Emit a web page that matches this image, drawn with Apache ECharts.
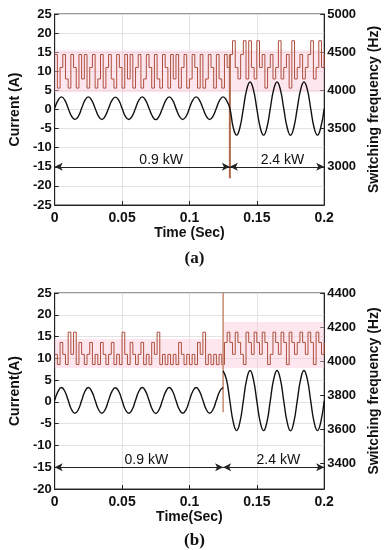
<!DOCTYPE html>
<html>
<head>
<meta charset="utf-8">
<script src="https://cdn.jsdelivr.net/npm/echarts@6.0.0/dist/echarts.min.js"></script>
<style>
html,body{margin:0;padding:0;background:#fff;}
#c{width:389px;height:550px;}
</style>
</head>
<body>
<div id="c"></div>
<script>
// ---------- data ----------
var xTicks = [0, 0.05, 0.1, 0.15, 0.2];
var dtCur = 0.0025;   // sample step of current traces (s)
var dtFreq = 0.002;   // sample step of switching-frequency traces (s)

// (a) load current (A), t = 0 .. 0.2 s every 2.5 ms
var currentA = [
  0.35, 2.4, 3.3, 2.45, 0.35, -1.75, -2.6, -1.8,
  0.3, 2.45, 3.3, 2.4, 0.35, -1.75, -2.6, -1.75,
  0.35, 2.4, 3.25, 2.45, 0.3, -1.8, -2.6, -1.75,
  0.35, 2.45, 3.3, 2.4, 0.35, -1.75, -2.65, -1.75,
  0.35, 2.4, 3.3, 2.45, 0.3, -1.75, -2.6, -1.8,
  0.35, 2.45, 3.3, 2.4, 0.35, -1.75, -2.6, -1.75,
  0.35, 2.45, 3.3, 2.4, 0.3, -4.7, -6.7, -4.65,
  0.25, 5.2, 7.2, 5.15, 0.25, -4.65, -6.7, -4.7,
  0.25, 5.2, 7.2, 5.2, 0.2, -4.65, -6.75, -4.65,
  0.25, 5.15, 7.2, 5.2, 0.25, -4.7, -6.7, -4.65,
  0.25
];

// (a) switching frequency (Hz), t = 0 .. 0.2 s every 2 ms
var freqA = [
  4470,4030,4300,4470,4150,4030,4470,4300,4030,4470,
  4150,4470,4030,4300,4470,4030,4150,4470,4030,4300,
  4470,4150,4030,4470,4300,4030,4470,4150,4470,4030,
  4300,4470,4030,4150,4470,4300,4030,4470,4150,4030,
  4470,4300,4030,4470,4150,4470,4030,4300,4470,4030,
  4150,4470,4300,4030,4470,4030,4150,4470,4300,4030,
  4470,4150,4030,4470,4300,4470,4650,4300,4150,4470,
  4650,4150,4650,4300,4150,4650,4300,4470,4030,4300,
  4470,4150,4300,4650,4150,4300,4470,4030,4650,4150,
  4300,4470,4150,4300,4470,4650,4150,4300,4650,4300,
  4470
];
// (a) load step: time and frequency dip
var stepTimeA = 0.13;
var spikeA = [4470, 2850];

// (b) load current (A): before step (0 .. 0.125 s) and after step (0.125 .. 0.2 s)
var currentB1 = [
  0.35, 2.4, 3.3, 2.45, 0.35, -1.75, -2.6, -1.8,
  0.3, 2.45, 3.3, 2.4, 0.35, -1.75, -2.6, -1.75,
  0.35, 2.4, 3.25, 2.45, 0.3, -1.8, -2.6, -1.75,
  0.35, 2.45, 3.3, 2.4, 0.35, -1.75, -2.65, -1.75,
  0.35, 2.4, 3.3, 2.45, 0.3, -1.75, -2.6, -1.8,
  0.35, 2.45, 3.3, 2.4, 0.35, -1.75, -2.6, -1.75,
  0.35, 2.45, 3.3
];
var currentB2 = [
  7.1, 5.1, 0.25, -4.6, -6.6, -4.6, 0.25, 5.15,
  7.2, 5.1, 0.25, -4.6, -6.6, -4.65, 0.25, 5.15,
  7.2, 5.15, 0.2, -4.6, -6.65, -4.6, 0.25, 5.1,
  7.2, 5.15, 0.25, -4.6, -6.6, -4.6, 0.25
];
// (b) switching frequency (Hz), t = 0 .. 0.2 s every 2 ms
var freqB = [
  4040,3980,4110,4040,3980,4170,4040,4170,3980,4110,
  4040,3980,4040,4110,3980,4040,3980,4110,4040,3980,
  4040,4110,3980,4040,3980,4170,4040,3980,4110,4040,
  3980,4040,4110,3980,4040,3980,4110,4040,4170,3980,
  4040,3980,4040,3980,4040,3980,4110,4040,3980,4040,
  3980,4040,3980,4110,4040,4170,3980,4040,3980,4040,
  3980,4040,3980,4110,4170,4110,4040,4170,4110,4040,
  3980,4170,4110,4040,4170,4110,4040,4170,4110,3980,
  4040,4170,4110,4040,4170,4110,3980,4170,4110,4040,
  4110,4170,4110,4040,4170,4110,3980,4170,4110,4040,
  4110
];
var stepTimeB = 0.125;
var spikeB = [4400, 3700];

// annotations
var powerLabels = ['0.9 kW', '2.4 kW'];
var arrowLevel = -15;
var labelTimesA = [0.079, 0.169];
var labelTimesB = [0.068, 0.166];
var labelLevel = -13.3;
var bandA = [3975, 4525];
var bandB1 = [3960, 4130];
var bandB2 = [3960, 4230];
var rightTicksB = [3400, 3600, 3800, 4000, 4200, 4400];

// ---------- helpers ----------
function pairs(arr, dt, t0) {
  return arr.map(function (v, i) { return [+(t0 + i * dt).toFixed(6), v]; });
}
// zero-order-hold path: each sample is held until the next sample time
function holdPairs(arr, dt) {
  var out = [];
  for (var i = 0; i < arr.length - 1; i++) {
    out.push([+(i * dt).toFixed(6), arr[i]]);
    out.push([+((i + 1) * dt).toFixed(6), arr[i]]);
  }
  out.push([+((arr.length - 1) * dt).toFixed(6), arr[arr.length - 1]]);
  return out;
}
var FONT = 'Liberation Sans, Arial, sans-serif';
var BLACK = '#111';

function xAxis(gi, name) {
  return {
    type: 'value', gridIndex: gi, min: 0, max: 0.2, interval: 0.05,
    name: name, nameLocation: 'middle', nameGap: 20,
    nameTextStyle: { fontFamily: FONT, fontSize: 14, fontWeight: 'bold', color: BLACK },
    axisLine: { onZero: false, lineStyle: { color: '#222', width: 1 } },
    axisTick: { inside: true, length: 4, lineStyle: { color: '#222' } },
    axisLabel: { fontFamily: FONT, fontSize: 14, fontWeight: 'bold', color: BLACK, margin: 6 },
    splitLine: { show: true, lineStyle: { color: '#e2e2e2', width: 1 } }
  };
}
function yLeft(gi, min, max, name, gap) {
  return {
    type: 'value', gridIndex: gi, position: 'left', min: min, max: max, interval: 5,
    name: name, nameLocation: 'middle', nameGap: gap,
    nameTextStyle: { fontFamily: FONT, fontSize: 14, fontWeight: 'bold', color: BLACK },
    axisLine: { show: true, lineStyle: { color: '#222', width: 1 } },
    axisTick: { show: true, inside: true, length: 4, lineStyle: { color: '#222' } },
    axisLabel: { fontFamily: FONT, fontSize: 13, fontWeight: 'bold', color: BLACK, margin: 3 },
    splitLine: { show: true, lineStyle: { color: '#e2e2e2', width: 1 } }
  };
}
function yRight(gi, min, max, name, gap, extra) {
  var ax = {
    type: 'value', gridIndex: gi, position: 'right', min: min, max: max,
    name: name, nameLocation: 'middle', nameGap: gap,
    nameTextStyle: { fontFamily: FONT, fontSize: 14, fontWeight: 'bold', color: BLACK },
    axisLine: { show: true, lineStyle: { color: '#222', width: 1 } },
    axisTick: { show: true, inside: true, length: 4, lineStyle: { color: '#222' } },
    axisLabel: { fontFamily: FONT, fontSize: 13, fontWeight: 'bold', color: BLACK, margin: 3,
                 formatter: function (v) { return String(v); } },
    splitLine: { show: false }
  };
  for (var k in extra) {
    if (typeof extra[k] === 'object' && ax[k]) { for (var j in extra[k]) ax[k][j] = extra[k][j]; }
    else ax[k] = extra[k];
  }
  return ax;
}
function arrows(t0, t1, t2, level) {
  return {
    silent: true, symbol: ['arrow', 'arrow'], symbolSize: [6, 8], label: { show: false },
    lineStyle: { color: '#222', width: 1, type: 'solid' },
    data: [
      [{ coord: [t0, level] }, { coord: [t1, level] }],
      [{ coord: [t1, level] }, { coord: [t2, level] }]
    ]
  };
}
function texts(times, level) {
  return {
    silent: true, symbol: 'circle', symbolSize: 1,
    itemStyle: { color: 'rgba(0,0,0,0)' },
    label: { show: true, position: 'inside', fontFamily: FONT, fontSize: 14, color: BLACK,
             formatter: function (p) { return p.name; } },
    data: times.map(function (t, i) { return { name: powerLabels[i], coord: [t, level] }; })
  };
}
function band(x0, x1, range) {
  return [{ xAxis: x0, yAxis: range[0] }, { xAxis: x1, yAxis: range[1] }];
}

var FREQ_COLOR = '#ad4f3c';
var BAND_COLOR = 'rgba(252,200,218,0.45)';
var TITLE_STYLE = { fontFamily: 'Liberation Serif, serif', fontSize: 17, fontWeight: 'bold', color: BLACK };
var option = {
  animation: false,
  backgroundColor: '#fff',
  title: [
    { text: '(a)', left: 'center', top: 245, textStyle: TITLE_STYLE },
    { text: '(b)', left: 'center', top: 527, textStyle: TITLE_STYLE }
  ],
  grid: [
    { left: 35, right: 49, top: 14, height: 191, show: true, borderColor: '#333', borderWidth: 1, backgroundColor: 'transparent' },
    { left: 47, right: 55, top: 293, height: 196, show: true, borderColor: '#333', borderWidth: 1, backgroundColor: 'transparent' }
  ],
  xAxis: [xAxis(0, 'Time (Sec)'), xAxis(1, 'Time(Sec)')],
  yAxis: [
    yLeft(0, -25, 25, 'Current (A)', 15),
    yRight(0, 2500, 5000, 'Switching frequency (Hz)', 32, { interval: 500, axisLabel: { showMinLabel: false } }),
    yLeft(1, -20, 25, 'Current(A)', 27),
    yRight(1, 3250, 4400, 'Switching frequency (Hz)', 33, { axisLabel: { customValues: rightTicksB }, axisTick: { customValues: rightTicksB } })
  ],
  series: [
    {
      type: 'line', xAxisIndex: 0, yAxisIndex: 1, symbol: 'none', z: 2,
      data: holdPairs(freqA, dtFreq),
      lineStyle: { color: FREQ_COLOR, width: 1 },
      markArea: { silent: true, itemStyle: { color: BAND_COLOR }, data: [band(0, 0.2, bandA)] }
    },
    {
      type: 'line', xAxisIndex: 0, yAxisIndex: 1, symbol: 'none', z: 3,
      data: [[stepTimeA, spikeA[0]], [stepTimeA, spikeA[1]]],
      lineStyle: { color: '#b0684a', width: 2 }
    },
    {
      type: 'line', xAxisIndex: 0, yAxisIndex: 0, symbol: 'none', smooth: 0.5, z: 5,
      data: pairs(currentA, dtCur, 0),
      lineStyle: { color: BLACK, width: 1.4 },
      markLine: arrows(0, stepTimeA, 0.2, arrowLevel),
      markPoint: texts(labelTimesA, labelLevel)
    },
    {
      type: 'line', xAxisIndex: 1, yAxisIndex: 3, symbol: 'none', z: 2,
      data: holdPairs(freqB, dtFreq),
      lineStyle: { color: FREQ_COLOR, width: 1 },
      markArea: { silent: true, itemStyle: { color: BAND_COLOR },
                  data: [band(0, stepTimeB, bandB1), band(stepTimeB, 0.2, bandB2)] }
    },
    {
      type: 'line', xAxisIndex: 1, yAxisIndex: 3, symbol: 'none', z: 3,
      data: [[stepTimeB, spikeB[0]], [stepTimeB, spikeB[1]]],
      lineStyle: { color: '#c88a70', width: 1.5 }
    },
    {
      type: 'line', xAxisIndex: 1, yAxisIndex: 2, symbol: 'none', smooth: 0.5, z: 5,
      data: pairs(currentB1, dtCur, 0),
      lineStyle: { color: BLACK, width: 1.4 },
      markLine: arrows(0, stepTimeB, 0.2, arrowLevel),
      markPoint: texts(labelTimesB, labelLevel)
    },
    {
      type: 'line', xAxisIndex: 1, yAxisIndex: 2, symbol: 'none', smooth: 0.5, z: 5,
      data: pairs(currentB2, dtCur, stepTimeB),
      lineStyle: { color: BLACK, width: 1.4 }
    }
  ]
};
var chart = echarts.init(document.getElementById('c'), null, { renderer: 'canvas' });
chart.setOption(option);
</script>
</body>
</html>
